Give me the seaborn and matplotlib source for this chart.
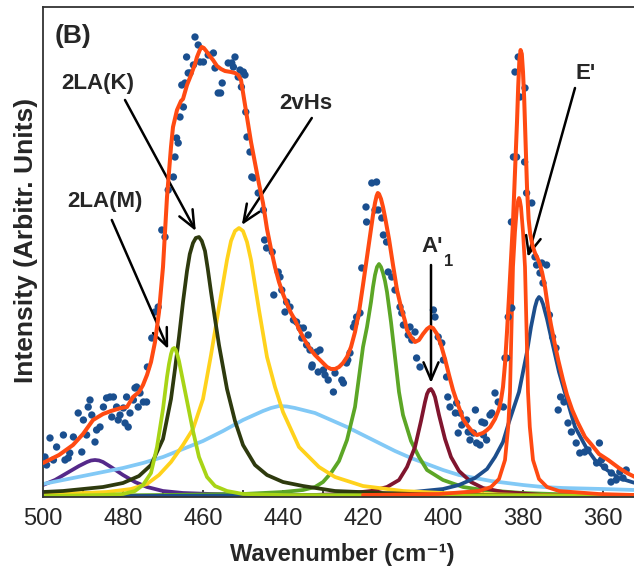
import numpy as np
import pandas as pd
import matplotlib.pyplot as plt
import seaborn as sns

# measured spectrum (wavenumber, intensity in arbitrary units)
data_wn = [499.5, 499.1, 498.25, 497.4, 496.6, 494.9, 494.5, 493.7, 493.3, 492.4, 491.2, 490.3, 489.9, 489.1,
           488.7, 488.25, 487.8, 487.0, 486.6, 485.75, 484.9, 484.1, 483.25, 482.4, 482.8, 481.6, 481.2, 480.75,
           479.9, 479.5, 479.1, 478.7, 478.25, 477.4, 477.0, 476.6, 476.2, 475.75, 474.9, 474.1, 473.9, 472.8,
           472.0, 471.2, 470.3, 469.5, 468.7, 467.4, 467.0, 466.6, 466.2, 465.75, 464.9, 465.3, 464.5, 464.1,
           463.7, 463.25, 462.4, 462.0, 461.2, 460.75, 459.9, 458.7, 457.4, 457.0, 456.2, 455.6, 455.2, 453.7,
           452.8, 452.0, 452.4, 451.2, 450.75, 449.9, 449.5, 450.4, 449.3, 449.0, 448.25, 447.8, 447.4, 446.2,
           444.9, 444.6, 444.1, 442.7, 441.2, 440.75, 442.3, 440.3, 439.1, 438.25, 439.5, 437.4, 436.6, 435.75,
           434.9, 435.3, 433.7, 434.1, 433.25, 432.7, 431.6, 430.75, 432.8, 431.2, 429.9, 429.5, 428.7, 427.4,
           427.0, 425.3, 424.9, 424.1, 423.25, 423.8, 422.4, 422.0, 421.6, 420.75, 420.3, 419.1, 419.25, 417.8,
           416.6, 417.0, 416.2, 415.3, 414.9, 414.1, 413.7, 412.8, 412.0, 410.75, 410.3, 409.9, 408.25, 408.7,
           407.0, 407.8, 406.6, 405.75, 402.4, 402.0, 401.2, 400.3, 399.9, 399.1, 398.8, 398.25, 396.6, 396.9,
           395.75, 395.3, 394.5, 396.2, 393.7, 394.1, 393.25, 392.4, 391.6, 391.9, 390.3, 389.9, 389.6, 389.1,
           390.75, 388.25, 387.8, 387.0, 386.2, 384.9, 384.5, 384.1, 383.7, 382.8, 382.9, 382.4, 382.0, 381.6,
           381.2, 380.75, 379.5, 379.6, 379.1, 377.8, 377.0, 376.6, 375.3, 374.1, 375.75, 375.0, 373.4, 372.6,
           371.75, 371.2, 370.6, 369.75, 368.75, 367.9, 366.7, 365.8, 364.6, 363.75, 360.9, 361.6, 360.4, 359.6,
           357.9, 358.0, 356.7, 355.8, 355.0, 354.2]
data_int = [40, 32, 59, 37, 50, 62, 37, 39, 44, 60, 84, 45, 77, 62,
            90, 97, 82, 55, 67, 70, 90, 99, 100, 100, 80, 90, 77, 82,
            89, 74, 100, 70, 84, 97, 109, 110, 90, 104, 95, 95, 130, 159,
            185, 190, 267, 260, 307, 320, 340, 359, 354, 380, 390, 412, 414, 440,
            424, 424, 432, 460, 452, 435, 435, 442, 444, 429, 404, 404, 414, 434,
            434, 440, 430, 420, 427, 425, 422, 410, 385, 360, 345, 320, 319, 304,
            287, 257, 249, 245, 225, 220, 202, 207, 195, 190, 185, 177, 175, 169,
            169, 159, 162, 152, 147, 132, 145, 147, 130, 125, 127, 122, 117, 105,
            124, 117, 114, 134, 144, 137, 170, 174, 180, 184, 229, 275, 290, 314,
            315, 287, 287, 279, 262, 255, 225, 220, 207, 190, 184, 172, 170, 162,
            165, 157, 139, 130, 187, 180, 160, 154, 137, 120, 100, 90, 94, 84,
            84, 72, 75, 64, 65, 77, 57, 64, 54, 87, 75, 62, 74, 57,
            52, 82, 84, 104, 95, 90, 139, 139, 180, 189, 275, 340, 425, 340,
            440, 400, 409, 335, 304, 294, 240, 232, 234, 232, 224, 214, 182, 160,
            149, 87, 100, 95, 74, 65, 54, 44, 45, 47, 54, 34, 37, 30,
            24, 15, 17, 25, 19, 27]

# overall fit
fit_wn = [500, 496, 492.5, 490, 487.5, 485, 483, 480.5, 479, 477.5, 476, 475, 474, 473, 472, 471, 470, 469,
          468, 467.5, 466.5, 465.5, 465, 464, 463, 462, 461.5, 460.8, 460.3, 459.8, 459.2, 458.5, 457.5, 456.5,
          455.5, 454.5, 453, 452, 451.2, 450.5, 450, 449, 448, 447, 446, 445, 444, 443, 442, 441, 440, 439, 438,
          437, 436, 435, 434, 433, 432, 431, 430, 429, 428, 427, 426, 425, 424, 423, 422, 421, 420, 419, 418,
          417.5, 417, 416.6, 416.3, 416, 415.5, 415, 414.5, 413.5, 412.5, 411.5, 410.5, 409.5, 409, 408, 407,
          406, 405, 404, 403.3, 402.5, 401.5, 400.5, 399.5, 398.5, 397.5, 396.5, 395.5, 395, 394, 393, 392,
          391.5, 390, 389, 388.2, 387, 386, 385.5, 385, 384.5, 384, 383.5, 383, 382.5, 382, 381.5, 381.2, 380.9,
          380.6, 380.3, 380, 379.7, 379.4, 379, 378.6, 378.2, 377.6, 377, 376.4, 375.8, 375.2, 374.5, 373.7,
          373, 372, 371.2, 370, 369, 367.7, 366.5, 364.5, 363, 361, 358.7, 356, 354, 352]
fit_int = [34, 42, 52, 63, 77, 83, 86, 89, 90, 100, 105, 112, 122, 135, 155, 185, 230, 300,
           350, 370, 387, 396, 398, 412, 422, 433, 440, 447, 450, 449, 446, 442, 437, 431,
           428, 426, 425, 424, 422, 417, 405, 380, 355, 334, 313, 294, 268, 248, 230, 215, 203, 193, 184,
           177, 168, 160, 153, 147, 142, 138, 134, 130, 128, 128, 130, 134, 140, 150, 165, 185, 212, 240, 268,
           282, 294, 301, 304, 303, 298, 290, 280, 258, 232, 207, 190, 176, 167, 160, 155,
           157, 163, 168, 170, 169, 163, 152, 138, 122, 107, 95, 84, 78, 72, 67, 63,
           62, 64, 67, 70, 78, 88, 97, 110, 133, 165, 200, 237, 275, 325, 375, 410, 437,
           447, 443, 425, 398, 362, 310, 278, 263, 251, 244, 239, 233, 224, 210, 188,
           172, 152, 137, 117, 102, 87, 76, 60, 53, 43, 37, 29, 24, 20]

# fitted components
purple_wn = [500, 497, 494, 491, 489, 488, 487, 486, 485, 483, 480, 477, 474, 470, 465, 458, 445, 420, 352]
purple_int = [12, 17, 24, 31, 35, 36.5, 37, 36.5, 35, 30, 22, 15, 10, 6, 4, 3, 2, 2, 1.5]

lightblue_wn = [500, 495, 490, 485, 480, 475, 470, 465, 460, 455, 450, 445, 443, 441, 439, 437, 432, 428,
                424, 420, 416, 412, 408, 404, 400, 396, 392, 388, 384, 380, 375, 370, 360, 352]
lightblue_int = [13, 17, 21, 25, 29, 34, 40, 48, 56, 66, 77, 86, 89, 91, 90.5, 89, 84, 77,
                 70, 62, 54, 46, 39, 33, 27, 22, 19, 16, 14, 12, 10, 9, 8, 7]

lime_wn = [500, 485, 480, 477, 475, 473, 471.5, 470, 469, 468.5, 468, 467.6, 467.2, 466.8, 466.4, 466, 465.5,
           464, 462.5, 461, 459, 457, 454, 450, 440, 352]
lime_int = [1, 2, 3, 6, 12, 24, 50, 88, 120, 133, 143, 148, 149, 147, 142, 136, 126,
            96, 66, 40, 20, 11, 6, 3, 2, 1]

olive_wn = [500, 495, 490, 485, 480, 476, 473, 470, 468, 467, 466, 465, 464, 463.3, 462.5, 461.8, 461,
            460.3, 459.5, 458.8, 458, 457, 456, 454, 452, 450, 447, 444, 440, 435, 427, 415, 400, 380, 352]
olive_int = [5, 6, 8, 10, 14, 21, 32, 58, 98, 128, 160, 195, 226, 243, 254, 259, 260,
             256, 246, 228, 205, 178, 152, 108, 76, 52, 32, 22, 15, 11, 6, 4, 2, 1.5, 1]

yellow_wn = [500, 490, 484, 478, 474, 471, 468, 465, 462.5, 460, 458, 456, 454, 453, 452, 451, 450, 449,
             448, 446, 444, 442, 440, 436, 431, 427, 420, 410, 400, 380, 352]
yellow_int = [3, 4, 5, 8, 13, 22, 35, 52, 68, 98, 142, 190, 237, 256, 266, 269, 266, 255,
              237, 187, 140, 110, 85, 50, 30, 20, 11, 6, 4, 2, 1]

green_wn = [500, 470, 450, 440, 435, 432, 430, 428, 426, 424, 422, 420, 419, 418, 417.5, 417, 416.5, 416,
            415.5, 415, 414.5, 414, 413, 412, 411, 410, 408, 406, 404, 400, 395, 390, 380, 365, 352]
green_int = [1, 2, 3, 5, 7, 10, 15, 24, 36, 57, 90, 150, 170, 195, 210, 222, 230, 233,
             230, 224, 216, 205, 175, 140, 105, 82, 56, 40, 27, 17, 10, 7, 4, 2, 2]

maroon_wn = [500, 440, 425, 418, 414, 411, 409, 407, 405.5, 404.5, 404, 403.5, 403, 402.5, 402, 401,
             399.5, 398, 396, 393, 390, 385, 375, 352]
maroon_int = [0.5, 1, 3, 6, 10, 17, 30, 50, 76, 95, 103, 107, 108, 105, 100, 82,
              58, 40, 26, 15, 9, 5, 2, 1]

navy_wn = [500, 420, 410, 405, 400, 396, 392, 389, 387, 385, 383.5, 381, 379, 378, 377.5, 377, 376.5, 376,
           375.5, 375, 374, 373, 371, 369.5, 367, 364, 362, 359, 356, 352]
navy_int = [0.5, 2, 4, 6, 8, 12, 19, 28, 40, 55, 75, 105, 145, 170, 180, 190, 197, 200,
            198, 193, 178, 160, 125, 104, 70, 48, 37, 27, 19, 14]

narrow_wn = [420, 401, 391, 388, 386, 384.5, 383.7, 383.25, 382.9, 382.5, 382, 381.5, 381.2, 381, 380.8,
             380.5, 380, 379.5, 379.1, 378.75, 378.3, 377.5, 376, 374, 371, 361, 352]
narrow_int = [2, 3, 6, 10, 18, 37, 70, 105, 165, 230, 265, 290, 297, 299, 297,
              290, 265, 230, 165, 105, 70, 37, 18, 10, 6, 3, 2]

components = [
    (purple_wn, purple_int, "#55298a"),
    (lightblue_wn, lightblue_int, "#82c9f6"),
    (green_wn, green_int, "#5ca626"),
    (maroon_wn, maroon_int, "#80152e"),
    (navy_wn, navy_int, "#1d4e8c"),
    (yellow_wn, yellow_int, "#ffd21c"),
    (olive_wn, olive_int, "#2e3a0e"),
    (lime_wn, lime_int, "#a8d416"),
    (narrow_wn, narrow_int, "#ff4a12"),
]

sns.set_theme(style="white")
plt.rcParams['font.family'] = ['Liberation Sans', 'DejaVu Sans']

fig = plt.figure(figsize=(6.34, 5.72), dpi=100)
ax = fig.add_axes([43 / 634, 75 / 572, 591 / 634, 490 / 572])

for wn, inten, col in components:
    sns.lineplot(x=wn, y=inten, color=col, linewidth=2.7, ax=ax, zorder=2)

sns.scatterplot(x=data_wn, y=data_int, color="#1a4f8f", s=28, edgecolor="none", ax=ax, zorder=3)
sns.lineplot(x=fit_wn, y=fit_int, color="#ff4a12", linewidth=2.9, ax=ax, zorder=4)

ax.set_xlim(500, 352.25)
ax.set_ylim(0, 490)
ax.set_xticks(np.arange(500, 350, -20))
ax.set_xticks(np.arange(490, 350, -20), minor=True)
ax.set_yticks([])
ax.tick_params(axis='x', which='both', direction='in', length=5, width=1.2, color='#222222',
               labelsize=17, pad=8, bottom=True)
for side in ['left', 'top', 'bottom']:
    ax.spines[side].set_color('#333333')
    ax.spines[side].set_linewidth(1.3)
ax.spines['right'].set_visible(False)

ax.set_xlabel('Wavenumber (cm⁻¹)', fontsize=17, fontweight='bold', va='center')
ax.xaxis.set_label_coords(0.507, -0.118)
ax.set_ylabel('Intensity (Arbitr. Units)', fontsize=19, fontweight='bold', va='center')
ax.yaxis.set_label_coords(-0.029, 0.524)

ax.text(492.5, 461, '(B)', fontsize=19, fontweight='bold', ha='center', va='center')

arrow = dict(arrowstyle='->, head_length=0.7, head_width=0.3', lw=1.8, color='black',
             mutation_scale=18, shrinkA=0, shrinkB=0)
ax.annotate('', xy=(461.8, 266), xytext=(479.5, 397), arrowprops=arrow)
ax.annotate('', xy=(450.3, 272), xytext=(432.8, 379), arrowprops=arrow)
ax.annotate('', xy=(468.7, 148), xytext=(482.8, 277), arrowprops=arrow)
ax.annotate('', xy=(403, 114), xytext=(403, 232), arrowprops=arrow)
ax.annotate('', xy=(378.8, 240), xytext=(367, 409), arrowprops=arrow)

lab = dict(fontsize=16, fontweight='bold', ha='center', va='center')
ax.text(486.4, 413.5, '2LA(K)', **lab)
ax.text(484.5, 295.5, '2LA(M)', **lab)
ax.text(434.3, 393.5, '2vHs', **lab)
ax.text(402.7, 250.5, "A'", **lab)
ax.text(398.6, 236, '1', fontsize=12, fontweight='bold', ha='center', va='center')
ax.text(364.3, 423.5, "E'", **lab)

fig.savefig('out.png', dpi=100)
